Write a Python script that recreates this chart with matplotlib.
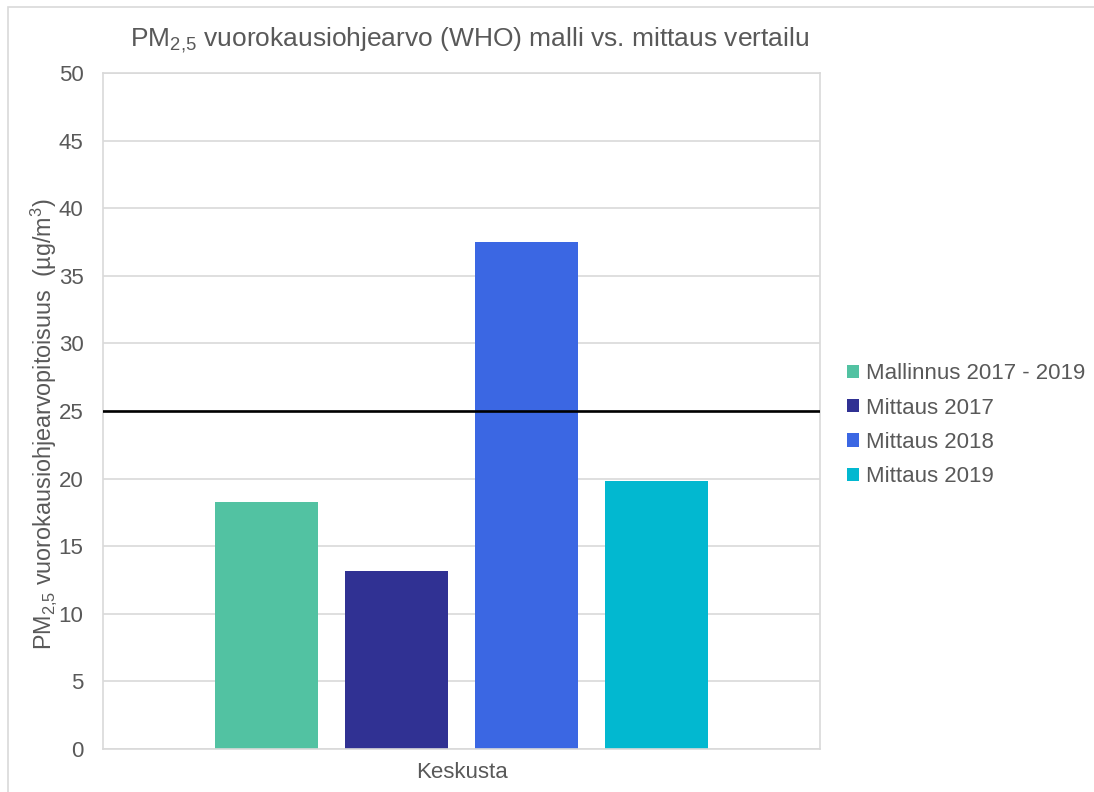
import matplotlib
matplotlib.use("Agg")
import matplotlib.pyplot as plt
from matplotlib.patches import Rectangle

plt.rcParams['font.family'] = ['Liberation Sans', 'DejaVu Sans']
plt.rcParams['mathtext.fontset'] = 'custom'
plt.rcParams['mathtext.rm'] = 'Liberation Sans'
plt.rcParams['mathtext.default'] = 'regular'

# data
category = "Keskusta"
series = ["Mallinnus 2017 - 2019", "Mittaus 2017", "Mittaus 2018", "Mittaus 2019"]
values = [18.3, 13.2, 37.5, 19.85]
colors = ["#52C2A2", "#303193", "#3B67E3", "#02B8D0"]
who_limit = 25
yticks = list(range(0, 51, 5))

txt = "#595959"
grid = "#D9D9D9"

fig = plt.figure(figsize=(10.94, 7.92), dpi=100)
# outer frame
fig.patches.append(Rectangle((8 / 1094, -0.1), 1.2, 1 - 7 / 792 + 0.1,
                             transform=fig.transFigure, fill=False,
                             edgecolor=grid, linewidth=1.2))

ax = fig.add_axes([103 / 1094, 1 - 749 / 792, 717 / 1094, 676 / 792])

step = 0.1813
width = 0.1437
for i, (name, v, c) in enumerate(zip(series, values, colors)):
    ax.bar((i - 1.5) * step, v, width=width, color=c, label=name, zorder=2)

ax.axhline(who_limit, color="black", linewidth=1.9, zorder=3)

ax.set_xlim(-0.5, 0.5)
ax.set_ylim(0, 50)
ax.set_yticks(yticks)
ax.set_xticks([0])
ax.set_xticklabels([category])
ax.tick_params(axis="both", length=0, colors=txt, labelsize=16)
ax.tick_params(axis="y", pad=14)
ax.tick_params(axis="x", pad=9)
ax.yaxis.grid(True, color=grid, linewidth=1.2, zorder=0)
ax.set_axisbelow(True)
for s in ax.spines.values():
    s.set_color(grid)
    s.set_linewidth(1.2)

ax.set_ylabel("PM$_{2{,}5}$ vuorokausiohjearvopitoisuus  (µg/m$^{3}$)",
              color=txt, fontsize=16.8)
ax.yaxis.set_label_coords(-0.062, 0.48)
fig.text(0.429, 1 - 40 / 792, "PM$_{2{,}5}$ vuorokausiohjearvo (WHO) malli vs. mittaus vertailu",
         ha="center", va="center", color=txt, fontsize=19)

leg = ax.legend(loc="center left", bbox_to_anchor=(1.01, 0.479), frameon=False,
                fontsize=16, handlelength=0.55, handleheight=0.55,
                handletextpad=0.3, labelspacing=0.6)
for t in leg.get_texts():
    t.set_color(txt)

fig.savefig("out.png", dpi=100)
